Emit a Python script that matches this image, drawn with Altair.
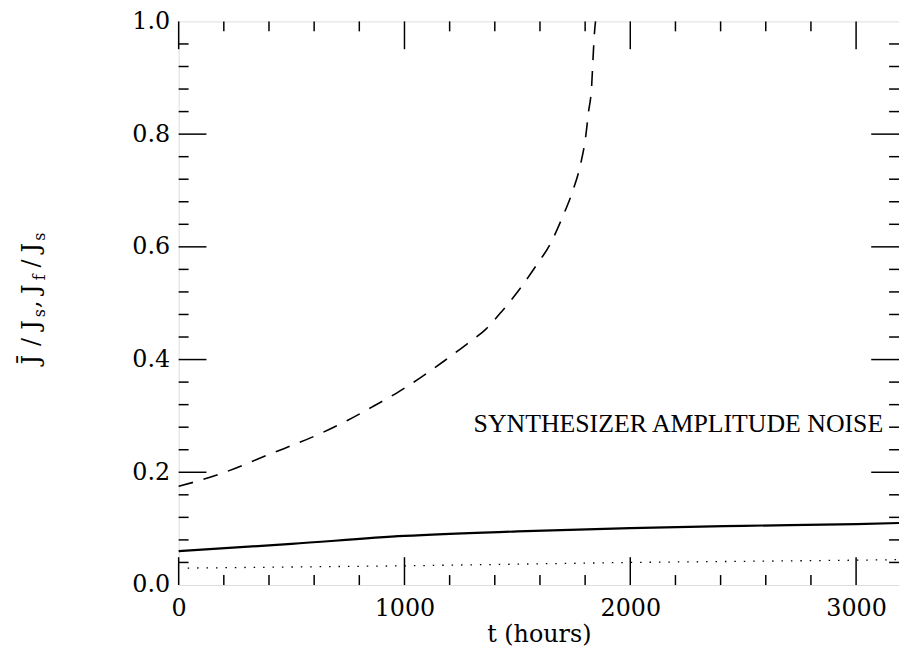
import altair as alt
import pandas as pd

# ---- data ----
t_dash = [0, 176, 396, 629, 747, 866, 967, 1068, 1174, 1275, 1363, 1430, 1508,
          1582, 1648, 1701, 1745, 1780, 1802, 1815, 1829, 1835, 1842, 1846]
j_dash = [0.175, 0.196, 0.231, 0.269, 0.292, 0.318, 0.341, 0.367, 0.397, 0.427,
          0.455, 0.485, 0.524, 0.566, 0.607, 0.654, 0.699, 0.747, 0.794, 0.839,
          0.886, 0.934, 0.983, 1.0]

t_solid = [0, 500, 1000, 1500, 2000, 2500, 3000, 3190]
j_solid = [0.060, 0.073, 0.087, 0.095, 0.101, 0.105, 0.108, 0.110]

t_dot = [40, 1000, 2000, 3000, 3190]
j_dot = [0.030, 0.034, 0.040, 0.044, 0.045]

x_major = [0, 1000, 2000, 3000]
x_minor = [200, 400, 600, 800, 1200, 1400, 1600, 1800, 2200, 2400, 2600, 2800]
y_major = [0.0, 0.2, 0.4, 0.6, 0.8, 1.0]
y_minor = [0.04, 0.08, 0.12, 0.16, 0.24, 0.28, 0.32, 0.36, 0.44, 0.48, 0.52,
           0.56, 0.64, 0.68, 0.72, 0.76, 0.84, 0.88, 0.92, 0.96]

note_text = "SYNTHESIZER AMPLITUDE NOISE"
note_t = [3120]
note_y = [0.285]

W, H = 726, 568
TOP = 11
FONT = "DejaVu Serif"
XD = [0, 3190]
YD = [0, 1]

xs = alt.Scale(domain=XD, nice=False, zero=False)
ys = alt.Scale(domain=YD, nice=False)

dash_df = pd.DataFrame({"t": t_dash, "j": j_dash})
solid_df = pd.DataFrame({"t": t_solid, "j": j_solid})
dot_df = pd.DataFrame({"t": t_dot, "j": j_dot})

x_axis = alt.Axis(values=x_major, format="d", ticks=False, domain=False, grid=False,
                  labelFont=FONT, labelFontSize=24, labelColor="black",
                  labelPadding=12, labelFlush=False,
                  title="t (hours)", titleFont=FONT, titleFontSize=24,
                  titleFontWeight="normal", titleColor="black", titlePadding=2)
y_axis = alt.Axis(values=y_major, format=".1f", ticks=False, domain=False,
                  grid=False, labelFont=FONT, labelFontSize=24,
                  labelColor="black", labelPadding=9, labelFlush=False,
                  title=None)

solid = alt.Chart(solid_df).mark_line(color="black", strokeWidth=2.2,
                                      interpolate="monotone").encode(
    x=alt.X("t:Q", scale=xs, axis=x_axis),
    y=alt.Y("j:Q", scale=ys, axis=y_axis),
)
dashed = alt.Chart(dash_df).mark_line(color="black", strokeWidth=1.6,
                                      strokeDash=[15, 11],
                                      interpolate="monotone").encode(
    x=alt.X("t:Q", scale=xs), y=alt.Y("j:Q", scale=ys))
dotted = alt.Chart(dot_df).mark_line(color="black", strokeWidth=1.3,
                                     strokeDash=[1.5, 8]).encode(
    x=alt.X("t:Q", scale=xs), y=alt.Y("j:Q", scale=ys))

def xticks(vals, length):
    df = pd.DataFrame({"t": vals})
    bot = alt.Chart(df).mark_rule(color="black", strokeWidth=1.5).encode(
        x=alt.X("t:Q", scale=xs), y=alt.value(H), y2=alt.value(H - length))
    top = alt.Chart(df).mark_rule(color="black", strokeWidth=1.5).encode(
        x=alt.X("t:Q", scale=xs), y=alt.value(0), y2=alt.value(length))
    return [bot, top]

def yticks(vals, length):
    df = pd.DataFrame({"j": vals})
    left = alt.Chart(df).mark_rule(color="black", strokeWidth=1.5).encode(
        y=alt.Y("j:Q", scale=ys), x=alt.value(0), x2=alt.value(length))
    right = alt.Chart(df).mark_rule(color="black", strokeWidth=1.5).encode(
        y=alt.Y("j:Q", scale=ys), x=alt.value(W), x2=alt.value(W - length))
    return [left, right]

tick_layers = (xticks(x_major, 28) + xticks(x_minor, 10)
               + yticks(y_major[1:-1], 28) + yticks(y_minor, 10))

note = alt.Chart(pd.DataFrame({"t": note_t, "j": note_y, "s": [note_text]})).mark_text(
    font="Liberation Serif", fontSize=26, align="right", baseline="middle",
    color="black"
).encode(x=alt.X("t:Q", scale=xs), y=alt.Y("j:Q", scale=ys), text="s:N")

# y-axis title composed of pieces (rotated, with subscripts)
# (character, centre y on page, font size, baseline x on page)
pieces = [("J\u0304", 360, 24, 39), ("/", 342, 24, 39), ("J", 325, 24, 39),
          ("s", 313, 16, 45), (",", 304, 24, 39), ("J", 289, 24, 39),
          ("f", 277, 16, 45), ("/", 263, 24, 39), ("J", 247, 24, 39),
          ("s", 236, 16, 45)]
title_layers = []
for ch, yc, fs, bx in pieces:
    title_layers.append(
        alt.Chart(pd.DataFrame({"c": [ch]})).mark_text(
            font=FONT, fontSize=fs, angle=270, align="center",
            baseline="alphabetic", color="black"
        ).encode(text="c:N", x=alt.value(bx - 180), y=alt.value(yc - 8 - TOP))
    )

chart = alt.layer(solid, dashed, dotted, note, *tick_layers, *title_layers).properties(
    width=W, height=H,
    autosize=alt.AutoSizeParams(type="none"),
    padding={"left": 172, "top": TOP, "right": 0, "bottom": 63},
).configure_view(stroke="black", strokeWidth=2).configure(background="white")

chart.save("out.html", embed_options={"renderer": "svg", "actions": False})
